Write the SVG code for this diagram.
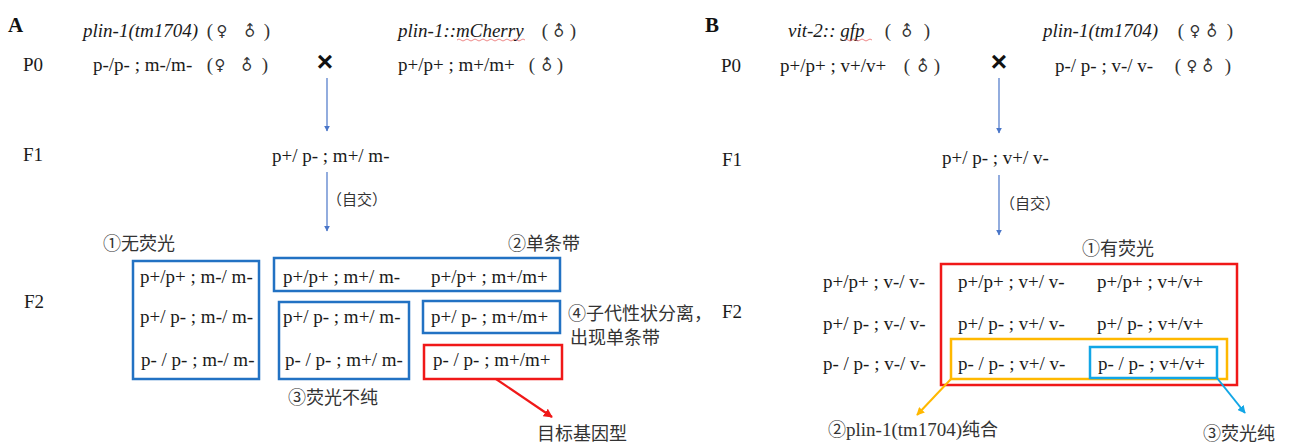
<svg xmlns="http://www.w3.org/2000/svg" width="1293" height="447" viewBox="0 0 1293 447">
  <style>
    .t { font-family: "Liberation Serif", "Noto Sans CJK SC", serif; font-size: 19px; fill: #1a1a1a; }
    .it { font-style: italic; }
    .cn { font-family: "Noto Sans CJK SC", sans-serif; font-size: 18px; fill: #333; }
    .sm { font-family: "Noto Sans CJK SC", sans-serif; font-size: 15px; fill: #333; }
    .par { font-family: "Liberation Serif", serif; font-size: 19px; fill: #333; text-anchor: middle; }
    .sym { font-family: "DejaVu Sans", sans-serif; font-size: 15px; fill: #333; text-anchor: middle; }
    .panel { font-family: "Liberation Serif", serif; font-weight: bold; font-size: 21px; fill: #111; }
    .cross { font-family: "Liberation Sans", sans-serif; font-weight: bold; font-size: 28px; fill: #111; text-anchor: middle; }
    .box { fill: none; stroke-width: 2.5; }
    .blue { stroke: #2272C3; }
    .red { stroke: #F01818; }
    .orange { stroke: #FFB800; }
    .cyan { stroke: #12A6E6; }
    .flow { stroke: #4A76C8; stroke-width: 1.2; fill: none; }
    .squig { stroke: #E86A6A; stroke-width: 0.8; fill: none; }
  </style>
  <defs>
    <marker id="tipBlue" viewBox="0 0 10 10" refX="9" refY="5" markerWidth="6" markerHeight="6" markerUnits="userSpaceOnUse" orient="auto">
      <path d="M0,0 L10,5 L0,10 z" fill="#4A76C8"/>
    </marker>
    <marker id="tipRed" viewBox="0 0 10 10" refX="9" refY="5" markerWidth="9" markerHeight="9" markerUnits="userSpaceOnUse" orient="auto">
      <path d="M0,0 L10,5 L0,10 z" fill="#F01818"/>
    </marker>
    <marker id="tipOrange" viewBox="0 0 10 10" refX="9" refY="5" markerWidth="8" markerHeight="8" markerUnits="userSpaceOnUse" orient="auto">
      <path d="M0,0 L10,5 L0,10 z" fill="#FFB800"/>
    </marker>
    <marker id="tipCyan" viewBox="0 0 10 10" refX="9" refY="5" markerWidth="8" markerHeight="8" markerUnits="userSpaceOnUse" orient="auto">
      <path d="M0,0 L10,5 L0,10 z" fill="#12A6E6"/>
    </marker>
  </defs>

  <rect width="1293" height="447" fill="#ffffff"/>

  <!-- ===== Panel A ===== -->
  <g id="panelA-labels">
    <text class="panel" x="8" y="32">A</text>
    <text class="t" x="23" y="71">P0</text>
    <text class="t" x="23" y="161">F1</text>
    <text class="t" x="24" y="308">F2</text>
  </g>

  <g id="A-parent-mutant">
    <text class="t it" x="83" y="37">plin-1(tm1704)</text>
    <text class="par" x="210" y="37">(</text>
    <text class="sym" x="222" y="36">♀</text>
    <text class="sym" x="250" y="36" transform="rotate(-45 250 31)">♂</text>
    <text class="par" x="267" y="37">)</text>
    <text class="t" x="93" y="71">p-/p- ; m-/m-</text>
    <text class="par" x="210" y="71">(</text>
    <text class="sym" x="220" y="70">♀</text>
    <text class="sym" x="247" y="70" transform="rotate(-45 247 65)">♂</text>
    <text class="par" x="265" y="71">)</text>
  </g>

  <text class="cross" x="325" y="71">×</text>

  <g id="A-parent-reporter">
    <text class="t it" x="398" y="37">plin-1::mCherry</text>
    <path class="squig" d="M457,40 q2,-2 4,0 t4,0 t4,0 t4,0 t4,0 t4,0 t4,0 t4,0 t4,0 t4,0 t4,0 t4,0 t4,0 t4,0 t4,0 t4,0 t4,0"/>
    <text class="par" x="545" y="37">(</text>
    <text class="sym" x="559" y="36" transform="rotate(-45 559 31)">♂</text>
    <text class="par" x="573" y="37">)</text>
    <text class="t" x="398" y="71">p+/p+ ; m+/m+</text>
    <text class="par" x="532" y="71">(</text>
    <text class="sym" x="547" y="70" transform="rotate(-45 547 65)">♂</text>
    <text class="par" x="560" y="71">)</text>
  </g>

  <g id="A-F1">
    <text class="t" x="272" y="162">p+/ p- ; m+/ m-</text>
    <text class="sm" x="327" y="205">（自交）</text>
  </g>

  <g id="A-group1">
    <text class="cn" x="103" y="250">①无荧光</text>
    <rect class="box blue" x="133" y="261" width="126" height="118"/>
    <text class="t" x="140" y="283">p+/p+ ; m-/ m-</text>
    <text class="t" x="140" y="323">p+/ p- ; m-/ m-</text>
    <text class="t" x="141" y="366">p- / p- ; m-/ m-</text>
  </g>

  <g id="A-group2">
    <text class="cn" x="508" y="250">②单条带</text>
    <rect class="box blue" x="274" y="258" width="286" height="33"/>
    <text class="t" x="283" y="283">p+/p+ ; m+/ m-</text>
    <text class="t" x="431" y="283">p+/p+ ; m+/m+</text>
  </g>

  <g id="A-group3">
    <rect class="box blue" x="279" y="302" width="130" height="77"/>
    <text class="t" x="283" y="323">p+/ p- ; m+/ m-</text>
    <text class="t" x="285" y="366">p- / p- ; m+/ m-</text>
    <text class="cn" x="288" y="404">③荧光不纯</text>
  </g>

  <g id="A-group4">
    <rect class="box blue" x="423" y="301" width="137" height="32"/>
    <text class="t" x="431" y="323">p+/ p- ; m+/m+</text>
    <text class="cn" x="568" y="320">④子代性状分离，</text>
    <text class="cn" x="570" y="344">出现单条带</text>
  </g>

  <g id="A-target">
    <rect class="box red" x="424" y="345" width="138" height="34"/>
    <text class="t" x="433" y="366">p- / p- ; m+/m+</text>
    <text class="cn" x="537" y="440">目标基因型</text>
  </g>

  <!-- ===== Panel B ===== -->
  <g id="panelB-labels">
    <text class="panel" x="705" y="32">B</text>
    <text class="t" x="721" y="72">P0</text>
    <text class="t" x="722" y="166">F1</text>
    <text class="t" x="722" y="318">F2</text>
  </g>

  <g id="B-parent-reporter">
    <text class="t it" x="788" y="37">vit-2:: gfp</text>
    <path class="squig" d="M844,40 q2,-2 4,0 t4,0 t4,0 t4,0 t4,0 t4,0 t4,0"/>
    <text class="par" x="888" y="37">(</text>
    <text class="sym" x="907" y="36" transform="rotate(-45 907 31)">♂</text>
    <text class="par" x="927" y="37">)</text>
    <text class="t" x="780" y="72">p+/p+ ; v+/v+</text>
    <text class="par" x="907" y="72">(</text>
    <text class="sym" x="923" y="71" transform="rotate(-45 923 66)">♂</text>
    <text class="par" x="937" y="72">)</text>
  </g>

  <text class="cross" x="999" y="71">×</text>

  <g id="B-parent-mutant">
    <text class="t it" x="1043" y="37">plin-1(tm1704)</text>
    <text class="par" x="1181" y="37">(</text>
    <text class="sym" x="1195" y="36">♀</text>
    <text class="sym" x="1212" y="36" transform="rotate(-45 1212 31)">♂</text>
    <text class="par" x="1230" y="37">)</text>
    <text class="t" x="1055" y="72">p-/ p- ; v-/ v-</text>
    <text class="par" x="1178" y="72">(</text>
    <text class="sym" x="1192" y="71">♀</text>
    <text class="sym" x="1208" y="71" transform="rotate(-45 1208 66)">♂</text>
    <text class="par" x="1228" y="72">)</text>
  </g>

  <g id="B-F1">
    <text class="t" x="942" y="164">p+/ p- ; v+/ v-</text>
    <text class="sm" x="1000" y="209">（自交）</text>
  </g>

  <g id="B-nonfluorescent">
    <text class="t" x="823" y="288">p+/p+ ; v-/ v-</text>
    <text class="t" x="823" y="330">p+/ p- ; v-/ v-</text>
    <text class="t" x="823" y="370">p- / p- ; v-/ v-</text>
  </g>

  <g id="B-group1">
    <text class="cn" x="1082" y="255">①有荧光</text>
    <rect class="box red" x="941" y="264" width="296" height="121"/>
    <text class="t" x="958" y="288">p+/p+ ; v+/ v-</text>
    <text class="t" x="1097" y="288">p+/p+ ; v+/v+</text>
    <text class="t" x="958" y="330">p+/ p- ; v+/ v-</text>
    <text class="t" x="1097" y="330">p+/ p- ; v+/v+</text>
  </g>

  <g id="B-group2">
    <rect class="box orange" x="951" y="339" width="276" height="40"/>
    <text class="t" x="958" y="370">p- / p- ; v+/ v-</text>
    <text class="cn" x="828" y="436">②<tspan font-family="Liberation Serif" font-size="19px">plin-1(tm1704)</tspan>纯合</text>
  </g>

  <g id="B-group3">
    <rect class="box cyan" x="1090" y="347" width="127" height="31"/>
    <text class="t" x="1098" y="370">p- / p- ; v+/v+</text>
    <text class="cn" x="1203" y="440">③荧光纯</text>
  </g>

  <!-- ===== Connectors ===== -->
  <g id="connectors">
    <line class="flow" x1="327" y1="78" x2="327" y2="131" marker-end="url(#tipBlue)"/>
    <line class="flow" x1="327" y1="172" x2="327" y2="231" marker-end="url(#tipBlue)"/>
    <line class="flow" x1="999" y1="78" x2="999" y2="133" marker-end="url(#tipBlue)"/>
    <line class="flow" x1="999" y1="175" x2="999" y2="235" marker-end="url(#tipBlue)"/>
    <line x1="496" y1="379" x2="552" y2="417" stroke="#F01818" stroke-width="2.2" marker-end="url(#tipRed)"/>
    <line x1="951" y1="379" x2="917" y2="415" stroke="#FFB800" stroke-width="2" marker-end="url(#tipOrange)"/>
    <line x1="1217" y1="378" x2="1245" y2="413" stroke="#12A6E6" stroke-width="2" marker-end="url(#tipCyan)"/>
  </g>
</svg>
